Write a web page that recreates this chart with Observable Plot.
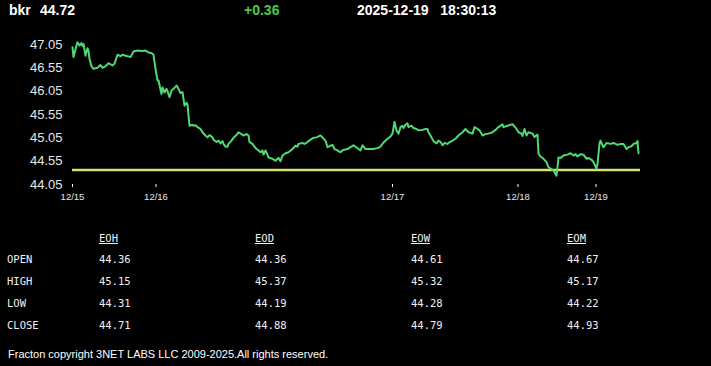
<!DOCTYPE html>
<html><head><meta charset="utf-8">
<script src="https://cdn.jsdelivr.net/npm/d3@7"></script>
<script src="https://cdn.jsdelivr.net/npm/@observablehq/plot@0.6"></script>
<style>
html,body{margin:0;padding:0;background:#000;}
body{width:711px;height:366px;position:relative;overflow:hidden;font-family:"Liberation Sans",Arial,sans-serif;color:#fff;}
.hdr{position:absolute;top:2px;font-weight:bold;font-size:14px;line-height:16px;white-space:pre;}
#chart{position:absolute;left:0;top:22px;}
.cell{position:absolute;font-family:"DejaVu Sans Mono","Liberation Mono",monospace;font-size:10.5px;line-height:12px;color:#f2f2f2;white-space:pre;}
.colhead{text-decoration:underline;}
#foot{position:absolute;left:8px;top:347px;font-size:11px;line-height:14px;color:#fff;}
</style>
</head><body>
<div id="chart"></div>
<div id="foot"></div>
<script>
// ---- header data ----
const symbol = "bkr";
const lastPrice = 44.72;
const change = 0.36;
const dateText = "2025-12-19";
const timeText = "18:30:13";
const openPrice = 44.36; // reference (previous close) line

// ---- y axis ----
const yTicks = [44.05, 44.55, 45.05, 45.55, 46.05, 46.55, 47.05];

// ---- x axis (session sample index) ----
const xTickPos = [0, 83.5, 320, 445.5, 523.5];
const xTickLabels = ["12/15", "12/16", "12/17", "12/18", "12/19"];
const xEnd = 568;

// ---- price series ----
const ts = [0,1,3,5,7,9,10,11,13,15,16,17,19,21,25,28,30,33,36,40,42,45,48,50,55,58,61,65,70,73,76,79,81,83,85,86,89,90,92,94,95,97,99,101,104,106,108,110,112,114,115,116,117,120,121,123,125,128,130,133,135,137,140,141,144,146,148,150,151,153,155,156,159,161,164,166,169,171,174,176,177,180,181,184,186,188,190,191,193,195,196,200,203,205,206,208,210,213,216,220,223,225,226,230,232,235,238,241,244,246,248,250,251,253,255,258,260,262,265,268,270,271,275,278,281,283,286,288,290,293,296,301,305,308,311,315,318,320,322,324,326,328,330,331,333,335,336,339,341,344,346,350,353,355,356,359,361,364,366,368,370,372,375,376,380,383,386,390,393,396,400,402,405,407,410,413,416,420,423,426,430,431,435,440,443,446,449,450,452,454,456,460,462,465,466,468,471,474,476,479,481,484,485,486,488,491,495,498,501,503,505,508,511,514,516,519,521,524,525,527,528,530,531,534,538,541,545,548,551,554,556,559,561,564,565,566];
const prices = [46.99,46.78,46.95,47.10,47.03,47.08,47.02,47.06,46.81,46.97,46.92,46.74,46.58,46.53,46.55,46.61,46.55,46.58,46.65,46.60,46.64,46.83,46.80,46.83,46.80,46.78,46.90,46.92,46.91,46.92,46.88,46.87,46.83,46.53,46.28,46.28,45.99,46.13,46.02,46.10,46.05,45.92,46.06,46.10,46.17,46.10,46.01,46.03,45.74,45.80,45.76,45.53,45.31,45.33,45.31,45.32,45.28,45.24,45.17,45.10,45.06,45.11,45.06,45.01,44.96,44.99,44.93,44.98,44.92,44.86,44.86,44.92,44.99,45.05,45.11,45.17,45.13,45.10,45.13,45.10,44.96,44.92,44.89,44.81,44.78,44.74,44.78,44.69,44.78,44.69,44.63,44.60,44.56,44.60,44.62,44.55,44.67,44.72,44.74,44.81,44.88,44.86,44.92,44.94,44.92,44.96,45.01,45.05,45.06,45.08,45.10,45.06,45.03,44.99,44.85,44.88,44.90,44.81,44.78,44.74,44.78,44.79,44.81,44.85,44.89,44.86,44.81,44.78,44.89,44.81,44.81,44.81,44.83,44.86,44.95,45.03,45.08,45.14,45.39,45.21,45.14,45.28,45.31,45.26,45.33,45.36,45.28,45.31,45.26,45.24,45.21,45.22,45.24,45.24,45.17,45.06,44.98,44.93,44.99,44.96,44.89,44.94,44.92,44.94,44.99,45.03,45.10,45.17,45.24,45.17,45.14,45.28,45.24,45.21,45.10,45.13,45.14,45.17,45.22,45.28,45.34,45.28,45.31,45.34,45.27,45.17,45.14,45.09,45.24,45.10,45.17,45.14,45.07,45.12,44.71,44.65,44.60,44.53,44.42,44.38,44.35,44.24,44.42,44.63,44.62,44.67,44.69,44.72,44.67,44.70,44.65,44.70,44.69,44.60,44.62,44.58,44.53,44.39,44.49,44.92,44.99,44.89,44.85,44.94,44.92,44.94,44.90,44.92,44.92,44.81,44.85,44.87,44.92,44.94,44.98,44.72];

// ---- table data ----
const rowLabels = ["OPEN", "HIGH", "LOW", "CLOSE"];
const colLabels = ["EOH", "EOD", "EOW", "EOM"];
const eohValues = [44.36, 45.15, 44.31, 44.71];
const eodValues = [44.36, 45.37, 44.19, 44.88];
const eowValues = [44.61, 45.32, 44.28, 44.79];
const eomValues = [44.67, 45.17, 44.22, 44.93];

const footerText = "Fracton copyright 3NET LABS LLC 2009-2025.All rights reserved.";

// ---- header ----
const hdrItems = [
  {text: symbol, left: 9, color: "#fff"},
  {text: lastPrice.toFixed(2), left: 40, color: "#fff"},
  {text: (change >= 0 ? "+" : "") + change.toFixed(2), left: 244, color: "#4cc94c"},
  {text: dateText + "   " + timeText, left: 357, color: "#fff"}
];
d3.select("body").selectAll("div.hdr").data(hdrItems).join("div")
  .attr("class", "hdr")
  .style("left", d => d.left + "px")
  .style("color", d => d.color)
  .text(d => d.text);

// ---- chart ----
const series = ts.map((t, i) => ({t, p: prices[i]}));
const chart = Plot.plot({
  width: 711,
  height: 188,
  marginLeft: 72,
  marginRight: 71,
  marginTop: 22,
  marginBottom: 26,
  style: {background: "#000", color: "#e6e6e6", fontFamily: "'Liberation Sans', Arial, sans-serif", overflow: "visible"},
  x: {domain: [0, xEnd]},
  y: {domain: [44.05, 47.05]},
  marks: [
    Plot.axisY({ticks: yTicks, tickSize: 0, tickPadding: 10, fontSize: 13, tickFormat: d => d.toFixed(2), label: null}),
    Plot.axisX({ticks: xTickPos, tickSize: 3, tickPadding: 6, fontSize: 9.5, tickFormat: d => xTickLabels[xTickPos.indexOf(d)], label: null, stroke: "#fff"}),
    Plot.ruleY([openPrice], {stroke: "#d8e36a", strokeWidth: 2.5}),
    Plot.line(series, {x: "t", y: "p", stroke: "#4fd873", strokeWidth: 2})
  ]
});
document.getElementById("chart").appendChild(chart);

// ---- table ----
const colX = [99, 255, 411, 567];
const rowY = [253, 275, 297, 319];
const colValues = [eohValues, eodValues, eowValues, eomValues];
const cells = [];
colLabels.forEach((c, j) => cells.push({text: c, x: colX[j], y: 232, cls: "cell colhead"}));
rowLabels.forEach((r, i) => cells.push({text: r, x: 7, y: rowY[i], cls: "cell"}));
colValues.forEach((vals, j) => vals.forEach((v, i) => cells.push({text: v.toFixed(2), x: colX[j], y: rowY[i], cls: "cell"})));
d3.select("body").selectAll("div.cell").data(cells).join("div")
  .attr("class", d => d.cls)
  .style("left", d => d.x + "px")
  .style("top", d => d.y + "px")
  .text(d => d.text);

document.getElementById("foot").textContent = footerText;
</script>
</body></html>
